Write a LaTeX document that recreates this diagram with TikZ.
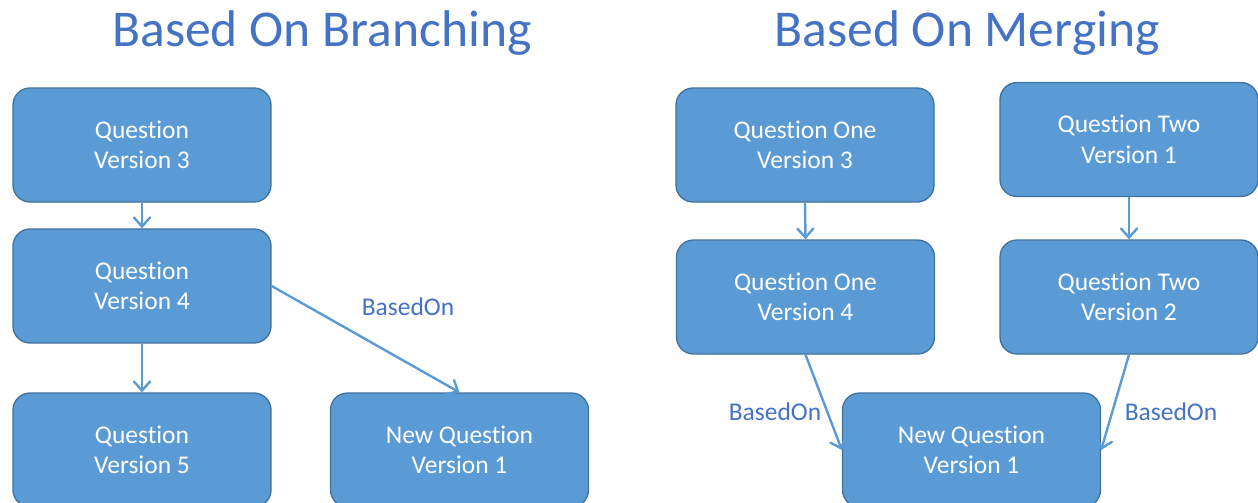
\documentclass[tikz,border=0pt]{standalone}
\usepackage{fontspec}
\setmainfont{Carlito}[Ligatures=NoCommon]
\usetikzlibrary{arrows.meta}
\definecolor{boxfill}{HTML}{5B9BD5}
\definecolor{boxline}{HTML}{41719C}
\definecolor{titleblue}{HTML}{4472C4}
\tikzset{
  qbox/.style={draw=boxline, line width=1.3pt, fill=boxfill, rounded corners=17pt,
    minimum width=258pt, minimum height=114pt, text=white, align=center,
    font=\fontsize{25.5}{30.5}\selectfont, inner sep=0pt},
  link/.style={draw=boxfill, line width=2.4pt,
    -{Straight Barb[length=9pt,width=16pt,line cap=round]}},
  heading/.style={text=titleblue, font=\fontsize{51.6}{60}\selectfont, inner sep=0pt},
  tag/.style={text=titleblue, font=\fontsize{25.5}{30}\selectfont, inner sep=0pt}
}
\begin{document}
\begin{tikzpicture}[x=1pt,y=-1pt]
\clip (0,0) rectangle (1258,503);
\fill[white] (0,0) rectangle (1258,503);

% headings
\node[heading] (hb) at (322,33) {Based On Branching};
\node[heading] (hm) at (967,33) {Based On Merging};

% branching
\node[qbox] (q3) at (142,145) {Question\\Version 3};
\node[qbox] (q4) at (142,286) {Question\\Version 4};
\node[qbox] (q5) at (142,450) {Question\\Version 5};
\node[qbox] (nb) at (459.5,450) {New Question\\Version 1};

\draw[link] (q3.south) -- (q4.north);
\draw[link] (q4.south) -- (q5.north);
\draw[link] (q4.east) -- (nb.north);
\node[tag] (lb) at (408,307) {BasedOn};

% merging
\node[qbox] (o3) at (805,145) {Question One\\Version 3};
\node[qbox] (t1) at (1129,139.5) {Question Two\\Version 1};
\node[qbox] (o4) at (805.5,297) {Question One\\Version 4};
\node[qbox] (t2) at (1129,297) {Question Two\\Version 2};
\node[qbox] (nm) at (971.5,450) {New Question\\Version 1};

\draw[link] (o3.south) -- (o4.north);
\draw[link] (t1.south) -- (t2.north);
\draw[link] (o4.south) -- (nm.west);
\draw[link] (t2.south) -- (nm.east);
\node[tag] (lm1) at (775,412) {BasedOn};
\node[tag] (lm2) at (1171,412) {BasedOn};
\end{tikzpicture}
\end{document}
